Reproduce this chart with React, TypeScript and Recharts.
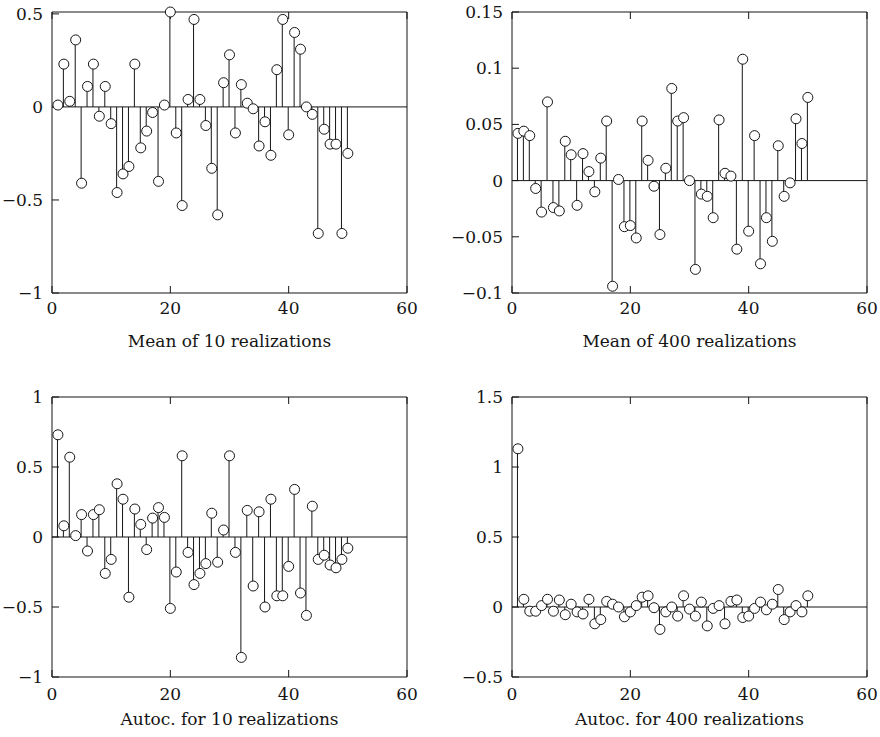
import React from 'react';
import { ComposedChart, Bar, Scatter, XAxis, YAxis, ReferenceLine } from 'recharts';

const lags = [1, 2, 3, 4, 5, 6, 7, 8, 9, 10, 11, 12, 13, 14, 15, 16, 17, 18, 19, 20, 21, 22, 23, 24, 25, 26, 27, 28, 29, 30, 31, 32, 33, 34, 35, 36, 37, 38, 39, 40, 41, 42, 43, 44, 45, 46, 47, 48, 49, 50];

const meanOf10 = [0.01, 0.23, 0.03, 0.36, -0.41, 0.11, 0.23, -0.05, 0.11, -0.09, -0.46, -0.36, -0.32, 0.23, -0.22, -0.13, -0.03, -0.40, 0.01, 0.51, -0.14, -0.53, 0.04, 0.47, 0.04, -0.10, -0.33, -0.58, 0.13, 0.28, -0.14, 0.12, 0.02, -0.01, -0.21, -0.08, -0.26, 0.20, 0.47, -0.15, 0.40, 0.31, 0.0, -0.04, -0.68, -0.12, -0.20, -0.20, -0.68, -0.25];

const meanOf400 = [0.042, 0.044, 0.040, -0.007, -0.028, 0.070, -0.024, -0.027, 0.035, 0.023, -0.022, 0.024, 0.008, -0.010, 0.020, 0.053, -0.094, 0.001, -0.041, -0.040, -0.051, 0.053, 0.018, -0.005, -0.048, 0.011, 0.082, 0.053, 0.056, 0.0, -0.079, -0.012, -0.014, -0.033, 0.054, 0.0065, 0.004, -0.061, 0.108, -0.045, 0.040, -0.074, -0.033, -0.054, 0.031, -0.014, -0.002, 0.055, 0.033, 0.074];

const autoc10 = [0.73, 0.08, 0.57, 0.01, 0.16, -0.10, 0.16, 0.195, -0.26, -0.16, 0.38, 0.27, -0.43, 0.20, 0.09, -0.09, 0.135, 0.21, 0.14, -0.51, -0.25, 0.58, -0.11, -0.34, -0.26, -0.19, 0.17, -0.18, 0.05, 0.58, -0.11, -0.86, 0.19, -0.35, 0.18, -0.50, 0.27, -0.42, -0.42, -0.21, 0.34, -0.40, -0.56, 0.22, -0.16, -0.13, -0.20, -0.22, -0.16, -0.08];

const autoc400 = [1.13, 0.055, -0.03, -0.03, 0.01, 0.055, -0.03, 0.05, -0.055, 0.02, -0.035, -0.05, 0.055, -0.12, -0.09, 0.04, 0.02, 0.0, -0.07, -0.035, 0.01, 0.07, 0.08, -0.005, -0.16, -0.035, 0.0, -0.065, 0.08, -0.015, -0.065, 0.035, -0.135, -0.01, 0.01, -0.12, 0.04, 0.05, -0.075, -0.065, -0.01, 0.035, -0.02, 0.02, 0.125, -0.09, -0.035, 0.01, -0.035, 0.08];

const xTicks = [0, 20, 40, 60];
const yTicksMean10 = [-1, -0.5, 0, 0.5];
const yTicksMean400 = [-0.1, -0.05, 0, 0.05, 0.1, 0.15];
const yTicksAutoc10 = [-1, -0.5, 0, 0.5, 1];
const yTicksAutoc400 = [-0.5, 0, 0.5, 1, 1.5];

const titles = [
  'Mean of 10 realizations',
  'Mean of 400 realizations',
  'Autoc. for 10 realizations',
  'Autoc. for 400 realizations',
];

const FONT = '"DejaVu Serif", "Liberation Serif", serif';
const INK = '#151515';

const fmt = (v: number) => (v < 0 ? '\u2212' + String(Math.abs(v)) : String(v));
const blank = () => '';

const Circle = (props: any) => {
  const { cx, cy } = props;
  if (cx == null || cy == null) return null;
  return <circle cx={cx} cy={cy} r={5} fill="#fff" stroke={INK} strokeWidth={1} />;
};

type PanelProps = {
  values: number[];
  yDomain: [number, number];
  yTicks: number[];
  title: string;
  left: number;
  top: number;
  width: number;
  height: number;
  leftAxisWidth: number;
  rightMargin: number;
  bottomAxisHeight: number;
  titleOffset: number;
  xTickMargin: number;
};

function StemPanel(p: PanelProps) {
  const data = lags.map((x, i) => ({ x, v: p.values[i] }));
  const tickStyle = { fill: INK, fontSize: 17, fontFamily: FONT };
  return (
    <div style={{ position: 'absolute', left: p.left, top: p.top }}>
      <ComposedChart
        width={p.width}
        height={p.height}
        data={data}
        margin={{ top: 11, right: p.rightMargin, bottom: 0, left: 0 }}
      >
        <XAxis
          xAxisId="b"
          dataKey="x"
          type="number"
          domain={[0, 60]}
          ticks={xTicks}
          orientation="bottom"
          height={p.bottomAxisHeight}
          tickSize={-7}
          tickMargin={p.xTickMargin}
          axisLine={{ stroke: INK }}
          tickLine={{ stroke: INK }}
          tick={tickStyle}
          interval={0}
          label={{
            value: p.title,
            position: 'insideBottom',
            offset: p.titleOffset,
            fill: INK,
            fontSize: 17,
            fontFamily: FONT,
          }}
        />
        <XAxis
          xAxisId="t"
          dataKey="x"
          type="number"
          domain={[0, 60]}
          ticks={xTicks}
          orientation="top"
          height={1}
          tickSize={-7}
          interval={0}
          tickFormatter={blank}
          axisLine={{ stroke: INK }}
          tickLine={{ stroke: INK }}
        />
        <YAxis
          yAxisId="l"
          type="number"
          domain={p.yDomain}
          ticks={p.yTicks}
          width={p.leftAxisWidth}
          tickSize={-7}
          tickMargin={16}
          interval={0}
          tickFormatter={fmt}
          axisLine={{ stroke: INK }}
          tickLine={{ stroke: INK }}
          tick={tickStyle}
        />
        <YAxis
          yAxisId="r"
          orientation="right"
          type="number"
          domain={p.yDomain}
          ticks={p.yTicks}
          width={1}
          tickSize={-7}
          interval={0}
          tickFormatter={blank}
          axisLine={{ stroke: INK }}
          tickLine={{ stroke: INK }}
        />
        <Bar xAxisId="b" yAxisId="l" dataKey="v" barSize={1} fill={INK} isAnimationActive={false} />
        <ReferenceLine xAxisId="b" yAxisId="l" y={0} stroke={INK} strokeWidth={1} />
        <Scatter xAxisId="b" yAxisId="l" dataKey="v" shape={<Circle />} isAnimationActive={false} />
      </ComposedChart>
    </div>
  );
}

export default function App() {
  return (
    <div style={{ position: 'absolute', left: 0, top: 0, width: 880, height: 737, background: '#fff', overflow: 'hidden' }}>
      <StemPanel values={meanOf10} yDomain={[-1, 0.5]} yTicks={yTicksMean10} title={titles[0]}
        left={0} top={0} width={440} height={353} leftAxisWidth={52} rightMargin={32} bottomAxisHeight={60} titleOffset={6} xTickMargin={16} />
      <StemPanel values={meanOf400} yDomain={[-0.1, 0.15]} yTicks={yTicksMean400} title={titles[1]}
        left={436} top={0} width={444} height={353} leftAxisWidth={76} rightMargin={12} bottomAxisHeight={60} titleOffset={6} xTickMargin={16} />
      <StemPanel values={autoc10} yDomain={[-1, 1]} yTicks={yTicksAutoc10} title={titles[2]}
        left={0} top={385} width={440} height={344} leftAxisWidth={52} rightMargin={32} bottomAxisHeight={52} titleOffset={4} xTickMargin={18} />
      <StemPanel values={autoc400} yDomain={[-0.5, 1.5]} yTicks={yTicksAutoc400} title={titles[3]}
        left={436} top={385} width={444} height={344} leftAxisWidth={76} rightMargin={12} bottomAxisHeight={52} titleOffset={4} xTickMargin={18} />
    </div>
  );
}
